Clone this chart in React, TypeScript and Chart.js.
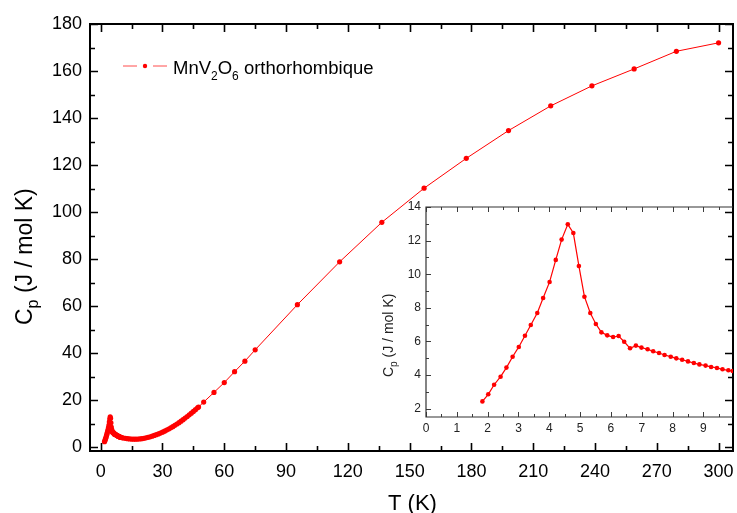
import { useEffect, useRef } from "react";
import { Chart, registerables } from "chart.js";

Chart.register(...registerables);

// ---- data ----
const insetT = [1.83, 2.02, 2.21, 2.42, 2.61, 2.81, 3.01, 3.21, 3.4, 3.61, 3.8, 4.01, 4.21, 4.4, 4.6, 4.78, 4.96, 5.14, 5.33, 5.51, 5.69, 5.88, 6.07, 6.25, 6.43, 6.62, 6.81, 6.99, 7.19, 7.37, 7.56, 7.74, 7.94, 8.12, 8.31, 8.5, 8.69, 8.87, 9.07, 9.25, 9.44, 9.62, 9.81, 9.95];
const insetCp = [2.43, 2.85, 3.42, 3.9, 4.44, 5.09, 5.67, 6.34, 6.98, 7.69, 8.58, 9.54, 10.85, 12.06, 12.97, 12.45, 10.49, 8.66, 7.69, 7.04, 6.54, 6.36, 6.26, 6.32, 5.98, 5.59, 5.75, 5.63, 5.53, 5.41, 5.31, 5.19, 5.09, 4.99, 4.91, 4.81, 4.71, 4.63, 4.56, 4.48, 4.42, 4.34, 4.28, 4.24];

const tailT = [10.5, 11, 12, 13, 14, 15, 16, 17, 18, 19, 20, 21, 22, 23, 24, 25, 26, 27, 28, 29, 30, 31, 32, 33, 34, 35, 36, 37, 38, 39, 40, 41, 42, 43, 44, 45, 46, 47, 47.5];
const tailCp = [4.14, 4.03, 3.87, 3.74, 3.64, 3.57, 3.53, 3.53, 3.56, 3.62, 3.72, 3.89, 4.08, 4.3, 4.54, 4.81, 5.1, 5.42, 5.76, 6.13, 6.52, 6.94, 7.38, 7.85, 8.34, 8.86, 9.4, 9.97, 10.56, 11.18, 11.82, 12.48, 13.16, 13.86, 14.58, 15.32, 16.08, 16.86, 17.2];

const highT = [50, 55, 60, 65, 70, 75, 95.5, 116, 136.5, 157, 177.5, 198, 218.5, 238.5, 259, 279.5, 300];
const highCp = [19.3, 23.4, 27.6, 32.2, 36.7, 41.5, 60.7, 78.9, 95.7, 110.2, 122.9, 134.7, 145.2, 153.7, 160.9, 168.4, 172.0];

const mainXTicks = [0, 30, 60, 90, 120, 150, 180, 210, 240, 270, 300];
const mainXMinor = [15, 45, 75, 105, 135, 165, 195, 225, 255, 285];
const mainYTicks = [0, 20, 40, 60, 80, 100, 120, 140, 160, 180];
const mainYMinor = [10, 30, 50, 70, 90, 110, 130, 150, 170];

const insetXTicks = [0, 1, 2, 3, 4, 5, 6, 7, 8, 9];
const insetXMinor = [0.5, 1.5, 2.5, 3.5, 4.5, 5.5, 6.5, 7.5, 8.5, 9.5];
const insetYTicks = [2, 4, 6, 8, 10, 12, 14];
const insetYMinor = [3, 5, 7, 9, 11, 13];

const seriesLabel = "MnV₂O₆ orthorhombique";

const FONT = "'Liberation Sans', Arial, sans-serif";
const RED = "#ff0000";

function toPoints(xs: number[], ys: number[]) {
  return xs.map((x, i) => ({ x, y: ys[i] }));
}

type FrameCfg = {
  id: string;
  color: string;
  lw: number;
  major: number;
  minor: number;
  xMajor: number[];
  xMinor: number[];
  yMajor: number[];
  yMinor: number[];
  right: boolean;
  rightLine: boolean;
  extra?: (ctx: CanvasRenderingContext2D, chart: any) => void;
};

function framePlugin(cfg: FrameCfg) {
  return {
    id: cfg.id,
    afterDraw(chart: any) {
      const ctx: CanvasRenderingContext2D = chart.ctx;
      const a = chart.chartArea;
      const xs = chart.scales.x;
      const ys = chart.scales.y;
      ctx.save();
      ctx.strokeStyle = cfg.color;
      ctx.lineWidth = cfg.lw;
      ctx.beginPath();
      ctx.moveTo(a.right, a.bottom);
      ctx.lineTo(a.left, a.bottom);
      ctx.lineTo(a.left, a.top);
      ctx.lineTo(a.right, a.top);
      if (cfg.rightLine) ctx.closePath();
      ctx.stroke();
      ctx.lineWidth = cfg.lw * 0.8;
      ctx.beginPath();
      const xt = (vals: number[], len: number) => {
        vals.forEach((v) => {
          const p = Math.round(xs.getPixelForValue(v)) + 0.5;
          if (p < a.left || p > a.right) return;
          ctx.moveTo(p, a.bottom);
          ctx.lineTo(p, a.bottom - len);
          ctx.moveTo(p, a.top);
          ctx.lineTo(p, a.top + len);
        });
      };
      const yt = (vals: number[], len: number) => {
        vals.forEach((v) => {
          const p = Math.round(ys.getPixelForValue(v)) + 0.5;
          if (p < a.top || p > a.bottom) return;
          ctx.moveTo(a.left, p);
          ctx.lineTo(a.left + len, p);
          if (cfg.right) {
            ctx.moveTo(a.right, p);
            ctx.lineTo(a.right - len, p);
          }
        });
      };
      xt(cfg.xMajor, cfg.major);
      xt(cfg.xMinor, cfg.minor);
      yt(cfg.yMajor, cfg.major);
      yt(cfg.yMinor, cfg.minor);
      ctx.stroke();
      if (cfg.extra) cfg.extra(ctx, chart);
      ctx.restore();
    },
  };
}

function drawRotatedCp(ctx: CanvasRenderingContext2D, x: number, y: number, size: number, subSize: number, subDrop: number, color: string) {
  ctx.save();
  ctx.translate(x, y);
  ctx.rotate(-Math.PI / 2);
  ctx.fillStyle = color;
  ctx.textBaseline = "alphabetic";
  ctx.textAlign = "left";
  ctx.font = `${size}px ${FONT}`;
  ctx.fillText("C", 0, 0);
  let w = ctx.measureText("C").width;
  ctx.font = `${subSize}px ${FONT}`;
  ctx.fillText("p", w, subDrop);
  w += ctx.measureText("p").width;
  ctx.font = `${size}px ${FONT}`;
  ctx.fillText(" (J / mol K)", w, 0);
  ctx.restore();
}

function linearScale(min: number, max: number, ticks: number[], fontSize: number, color: string, size: number, padding: number, isX: boolean) {
  return {
    type: "linear" as const,
    min,
    max,
    grid: { display: false, drawTicks: false, tickLength: 0 },
    border: { display: false },
    ticks: {
      font: { family: FONT, size: fontSize },
      color,
      padding,
      autoSkip: false,
      maxRotation: 0,
      minRotation: 0,
      callback: (v: any) => String(v),
    },
    afterBuildTicks: (scale: any) => {
      scale.ticks = ticks.map((v) => ({ value: v }));
    },
    afterFit: (scale: any) => {
      if (isX) scale.height = size;
      else scale.width = size;
      scale.paddingLeft = 0;
      scale.paddingRight = 0;
      scale.paddingTop = 0;
      scale.paddingBottom = 0;
    },
  };
}

export default function App() {
  const mainRef = useRef<HTMLCanvasElement>(null);
  const insetRef = useRef<HTMLCanvasElement>(null);

  useEffect(() => {
    const allData = [
      ...toPoints(insetT, insetCp),
      ...toPoints(tailT, tailCp),
      ...toPoints(highT, highCp),
    ];

    const main = new Chart(mainRef.current!, {
      type: "line",
      data: {
        datasets: [
          {
            label: seriesLabel,
            data: allData,
            borderColor: RED,
            borderWidth: 1,
            pointRadius: 2.6,
            pointBackgroundColor: RED,
            pointBorderColor: RED,
            pointBorderWidth: 0,
            tension: 0,
          },
        ],
      },
      options: {
        responsive: false,
        animation: false,
        devicePixelRatio: 1,
        layout: { padding: { left: 0, top: 24, right: 2, bottom: 0 } },
        plugins: { legend: { display: false }, tooltip: { enabled: false } },
        scales: {
          x: linearScale(-5.2, 307, mainXTicks, 18, "#000", 62, 10, true),
          y: linearScale(-1.5, 180, mainYTicks, 18, "#000", 90, 8, false),
        },
      },
      plugins: [
        framePlugin({
          id: "mainFrame",
          color: "#000",
          lw: 2,
          major: 8,
          minor: 5,
          xMajor: mainXTicks,
          xMinor: mainXMinor,
          yMajor: mainYTicks,
          yMinor: mainYMinor,
          right: true,
          rightLine: true,
          extra: (ctx) => {
            // axis titles
            ctx.fillStyle = "#000";
            ctx.font = `22px ${FONT}`;
            ctx.textAlign = "center";
            ctx.textBaseline = "alphabetic";
            ctx.fillText("T (K)", 412.5, 510);
            drawRotatedCp(ctx, 32, 325, 23, 16, 6, "#000");
            // legend
            ctx.strokeStyle = RED;
            ctx.lineWidth = 1;
            ctx.globalAlpha = 0.7;
            ctx.beginPath();
            ctx.moveTo(123, 66);
            ctx.lineTo(137, 66);
            ctx.moveTo(153, 66);
            ctx.lineTo(167, 66);
            ctx.stroke();
            ctx.globalAlpha = 1;
            ctx.fillStyle = RED;
            ctx.beginPath();
            ctx.arc(145, 66, 2.2, 0, Math.PI * 2);
            ctx.fill();
            ctx.fillStyle = "#000";
            ctx.textAlign = "left";
            let x = 173;
            const parts: [string, boolean][] = [["MnV", false], ["2", true], ["O", false], ["6", true], [" orthorhombique", false]];
            parts.forEach(([t, sub]) => {
              ctx.font = sub ? `12px ${FONT}` : `18.5px ${FONT}`;
              ctx.fillText(t, x, sub ? 80 : 74);
              x += ctx.measureText(t).width;
            });
          },
        }) as any,
      ],
    });

    const inset = new Chart(insetRef.current!, {
      type: "line",
      data: {
        datasets: [
          {
            label: seriesLabel,
            data: toPoints(insetT, insetCp),
            borderColor: RED,
            borderWidth: 1.2,
            pointRadius: 2.3,
            pointBackgroundColor: RED,
            pointBorderColor: RED,
            pointBorderWidth: 0,
            tension: 0,
          },
        ],
      },
      options: {
        responsive: false,
        animation: false,
        devicePixelRatio: 1,
        layout: { padding: { left: 0, top: 12, right: 2, bottom: 0 } },
        plugins: { legend: { display: false }, tooltip: { enabled: false } },
        scales: {
          x: linearScale(0, 9.96, insetXTicks, 12, "#222", 18, 4, true),
          y: linearScale(1.5, 14, insetYTicks, 12, "#222", 56, 5, false),
        },
      },
      plugins: [
        framePlugin({
          id: "insetFrame",
          color: "#333",
          lw: 1.2,
          major: 5,
          minor: 3,
          xMajor: insetXTicks,
          xMinor: insetXMinor,
          yMajor: insetYTicks,
          yMinor: insetYMinor,
          right: false,
          rightLine: false,
          extra: (ctx) => {
            drawRotatedCp(ctx, 23, 182, 14, 10, 4, "#222");
          },
        }) as any,
      ],
    });

    return () => {
      main.destroy();
      inset.destroy();
    };
  }, []);

  return (
    <div style={{ position: "fixed", left: 0, top: 0, width: 737, height: 513, background: "#fff" }}>
      <canvas ref={mainRef} width={737} height={513} style={{ position: "absolute", left: 0, top: 0 }} />
      <canvas ref={insetRef} width={367} height={240} style={{ position: "absolute", left: 370, top: 195 }} />
    </div>
  );
}
